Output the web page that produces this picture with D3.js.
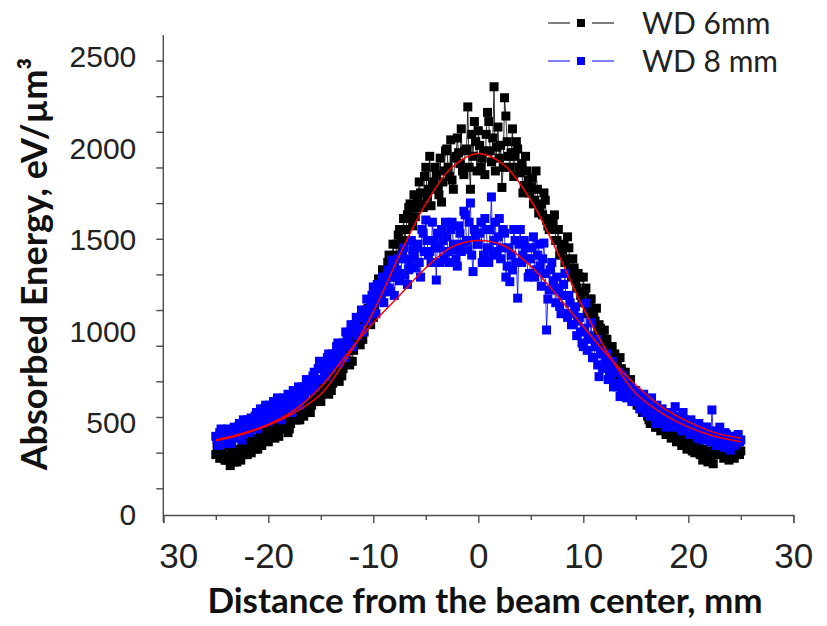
<!DOCTYPE html>
<html>
<head>
<meta charset="utf-8">
<script src="https://cdn.jsdelivr.net/npm/d3@7"></script>
<style>
body { margin: 0; background: #fff; }
svg { font-family: Lato, "Open Sans", sans-serif; }
</style>
</head>
<body>
<div id="chart"></div>
<script>
var w = 827;
var h = 626;

// measurement grids, mm: main pass every 0.25 mm, second pass shifted by 0.125 mm
var distanceA = d3.range(-25, 25.001, 0.25);
var distanceB = d3.range(-24.875, 24.9, 0.25);

// absorbed energy, eV/um3
var wd6A = [
  330, 360, 420, 310,  300, 380, 350, 290,  290, 360, 380, 330,  330, 400, 420, 360,
  360, 430, 420, 470,  400, 470, 450, 510,  430, 500, 540, 480,  470, 540, 580, 520,
  520, 590, 600, 560,  560, 620, 680, 640,  620, 700, 740, 660,  680, 760, 820, 730,
  760, 850, 900, 820,  840, 940, 1020, 930,  960, 1060, 1130, 1040,  1080, 1190, 1290, 1200,
  1220, 1330, 1420, 1300,  1380, 1480, 1560, 1440,  1500, 1640, 1700, 1580,  1630, 1720, 1760, 1680,
  1900, 1780, 1690, 1820,  1860, 1750, 1710, 1880,  2000, 1850, 1830, 1950,  2060, 1920, 1880, 1990,
  2230, 1780, 1960, 2040,
  2100, 1900, 1990, 2080,  2150, 1930, 2340, 2010,  1950, 1790, 2280, 2040,  1900, 2110, 1960, 2000,
  1870, 1760, 1960, 1830,  1790, 1700, 1880, 1650,  1700, 1760, 1610, 1560,  1560, 1640, 1500, 1420,
  1450, 1380, 1520, 1340,  1400, 1280, 1320, 1200,  1300, 1240, 1140, 1180,  1090, 1130, 1040, 980,
  1010, 960, 900, 920,  880, 820, 860, 780,  780, 700, 740, 660,  620, 660, 600, 560,
  560, 520, 580, 500,  480, 520, 470, 500,  470, 450, 430, 480,  480, 420, 400, 440,
  440, 400, 380, 370,  380, 330, 360, 310,  300, 350, 390, 340,  390, 340, 370, 320,
  370, 330, 360, 340,
  350
];
var wd6B = [
  380, 310, 340, 300,  320, 270, 330, 310,  340, 300, 350, 370,  390, 340, 370, 400,
  410, 380, 450, 430,  440, 490, 420, 470,  470, 520, 500, 450,  500, 560, 520, 600,
  560, 540, 620, 580,  600, 660, 620, 700,  660, 720, 690, 780,  720, 800, 760, 860,
  800, 880, 840, 960,  900, 990, 950, 1060,  1000, 1100, 1080, 1170,  1140, 1240, 1220, 1340,
  1280, 1380, 1350, 1480,  1420, 1530, 1500, 1620,  1560, 1680, 1620, 1750,  1680, 1820, 1700, 1850,
  1740, 1960, 1800, 1900,  1780, 1950, 1820, 1990,  1900, 2050, 1780, 1960,  1980, 2110, 1860, 2000,
  1900, 2080, 2150, 1880,
  2020, 1950, 1860, 2200,  1990, 2060, 1880, 2120,  2020, 1900, 2180, 1960,  1980, 1850, 2040, 1900,
  1920, 1800, 1880, 1760,  1840, 1720, 1780, 1660,  1640, 1720, 1580, 1620,  1600, 1500, 1560, 1460,
  1480, 1400, 1460, 1300,  1350, 1240, 1300, 1160,  1220, 1100, 1180, 1060,  1060, 1000, 1020, 940,
  960, 880, 920, 840,  840, 760, 800, 720,  720, 680, 640, 620,  600, 640, 560, 590,
  540, 500, 560, 480,  500, 460, 510, 440,  450, 420, 460, 400,  420, 380, 430, 360,
  400, 350, 340, 370,  330, 300, 340, 290,  320, 280, 330, 360,  350, 310, 340, 300,
  340, 310, 350, 330
];
var wd8A = [
  430, 380, 470, 400,  450, 420, 390, 480,  440, 500, 410, 470,  520, 450, 490, 540,
  470, 580, 520, 600,  510, 560, 620, 540,  590, 520, 640, 580,  620, 560, 680, 640,
  600, 700, 660, 720,  680, 760, 700, 800,  740, 820, 760, 880,  800, 860, 920, 830,
  900, 860, 960, 1000,  920, 1040, 980, 1080,  1000, 1120, 1060, 1140,  1246, 1100, 1180, 1220,
  1160, 1300, 1240, 1393,  1200, 1340, 1280, 1420,  1310, 1260, 1380, 1450,  1350, 1480, 1300, 1540,
  1612, 1420, 1380, 1500,  1284, 1460, 1560, 1400,  1520, 1380, 1600, 1450,  1360, 1540, 1480, 1640,
  1450, 1705, 1330, 1520,
  1480, 1600, 1420, 1560,  1380, 1738, 1500, 1440,  1620, 1460, 1540, 1360,  1275, 1339, 1500, 1185,
  1560, 1420, 1460, 1300,  1400, 1520, 1340, 1480,  1250, 1486, 1011, 1230,  1380, 1230, 1300, 1140,
  1200, 1320, 1080, 1160,  1040, 1138, 1060, 1000,  920, 1158, 980, 1050,  860, 960, 756, 900,
  820, 880, 760, 840,  780, 700, 647, 760,  720, 660, 700, 620,  680, 640, 600, 660,
  620, 580, 640, 560,  600, 540, 580, 520,  560, 500, 540, 592,  520, 480, 560, 500,
  470, 520, 480, 450,  500, 440, 470, 480,  430, 574, 460, 420,  480, 400, 450, 420,
  355, 430, 390, 440,
  410
];
var wd8B = [
  410, 450, 390, 430,  470, 400, 440, 420,  480, 430, 520, 460,  470, 530, 500, 560,
  540, 500, 580, 550,  600, 530, 580, 640,  560, 620, 600, 660,  600, 680, 640, 700,
  680, 640, 740, 700,  720, 780, 740, 840,  800, 760, 860, 820,  880, 840, 940, 900,
  940, 1000, 920, 1040,  1000, 1080, 1020, 1120,  1080, 1180, 1100, 1200,  1160, 1260, 1200, 1300,
  1260, 1340, 1220, 1380,  1300, 1400, 1320, 1460,  1400, 1340, 1500, 1420,  1460, 1380, 1560, 1440,
  1500, 1440, 1600, 1460,  1540, 1380, 1500, 1600,  1440, 1560, 1480, 1400,  1580, 1440, 1660, 1500,
  1600, 1420, 1560, 1480,
  1540, 1380, 1620, 1460,  1560, 1420, 1600, 1520,  1400, 1560, 1300, 1460,  1420, 1560, 1380, 1480,
  1380, 1500, 1400, 1320,  1460, 1300, 1420, 1360,  1400, 1320, 1180, 1340,  1280, 1160, 1240, 1100,
  1260, 1100, 1200, 1040,  1100, 980, 1080, 940,  1020, 900, 960, 860,  920, 820, 880, 800,
  860, 740, 800, 700,  720, 780, 680, 740,  640, 700, 620, 680,  620, 580, 640, 560,
  600, 540, 580, 500,  560, 500, 540, 480,  520, 560, 480, 540,  500, 460, 520, 480,
  440, 500, 460, 420,  460, 410, 480, 440,  400, 450, 380, 430,  410, 370, 440, 400,
  420, 380, 430, 400
];

// fitted curves (red)
var fitX = [-25, -22.5, -20, -17.5, -15, -12.5, -10, -7.5, -5, -2.5, 0, 2.5, 5, 7.5, 10, 12.5, 15, 17.5, 20, 22.5, 25];
var fit6 = [405, 440, 490, 560, 660, 860, 1110, 1420, 1700, 1900, 1975, 1910, 1720, 1440, 1130, 870, 665, 555, 480, 430, 400];
var fit8 = [410, 445, 495, 575, 700, 880, 1050, 1200, 1350, 1465, 1500, 1470, 1360, 1200, 1030, 860, 710, 590, 510, 450, 420];

var seriesNames = ["WD 6mm", "WD 8 mm"];
var seriesColors = ["#000000", "#0000ff"];
var xMajor = [-30, -20, -10, 0, 10, 20, 30];
var xMinor = [-25, -15, -5, 5, 15, 25];
var xLabels = ["30", "-20", "-10", "0", "10", "20", "30"];
var yLabels = [0, 500, 1000, 1500, 2000, 2500];

var axisColor = "#4d4d4d";
var textColor = "#222";

var svg = d3.select("#chart")
            .append("svg")
            .attr("width", w)
            .attr("height", h);

// scales
var x = d3.scaleLinear().domain([-30, 30]).range([163.3, 793.3]);
var y = d3.scaleLinear().domain([0, 2500]).range([515, 57.5]);
// the tick marks on the y axis sit on their own spacing in the original
var yMarks = d3.scaleLinear().domain([0, 2500]).range([488.3, 42.7]);

// x axis: major ticks with labels, then minor ticks
var xAxis = svg.append("g")
    .attr("transform", "translate(0," + y(0) + ")")
    .call(d3.axisBottom(x)
        .tickValues(xMajor)
        .tickSize(8)
        .tickPadding(20)
        .tickFormat(function(d, i) { return xLabels[i]; }));
xAxis.select(".domain").attr("stroke", axisColor).attr("stroke-width", 1.4);
xAxis.selectAll(".tick line").attr("stroke", axisColor).attr("stroke-width", 1.4);
xAxis.selectAll(".tick text")
    .attr("fill", textColor)
    .style("font-size", "35px")
    .attr("x", function(d) { return d === -30 ? 15 : 0; });

var xMinorAxis = svg.append("g")
    .attr("transform", "translate(0," + y(0) + ")")
    .call(d3.axisBottom(x).tickValues(xMinor).tickSize(5).tickFormat(""));
xMinorAxis.select(".domain").remove();
xMinorAxis.selectAll(".tick line").attr("stroke", axisColor).attr("stroke-width", 1.4);

// y axis line (extends below the x axis a little)
svg.append("line")
    .attr("x1", x(-30)).attr("x2", x(-30))
    .attr("y1", 35).attr("y2", 522)
    .attr("stroke", axisColor)
    .attr("stroke-width", 1.4);

var yMarkAxis = svg.append("g")
    .attr("transform", "translate(" + x(-30) + ",0)")
    .call(d3.axisLeft(yMarks).ticks(10).tickSize(7).tickFormat(""));
yMarkAxis.select(".domain").remove();
yMarkAxis.selectAll(".tick line").attr("stroke", axisColor).attr("stroke-width", 1.4);

var yAxis = svg.append("g")
    .attr("transform", "translate(" + x(-30) + ",0)")
    .call(d3.axisLeft(y).tickValues(yLabels).tickSize(0).tickPadding(27)
        .tickFormat(d3.format("d")));
yAxis.select(".domain").remove();
yAxis.selectAll(".tick text")
    .attr("fill", textColor)
    .attr("dy", "0.3em")
    .style("font-size", "30px");

// axis titles
svg.append("text")
    .attr("x", 485)
    .attr("y", 613)
    .attr("text-anchor", "middle")
    .attr("fill", "#111")
    .style("font-size", "35px")
    .style("font-weight", "bold")
    .text("Distance from the beam center, mm");

svg.append("text")
    .attr("transform", "translate(47,264) rotate(-90)")
    .attr("text-anchor", "middle")
    .attr("fill", "#111")
    .style("font-size", "36px")
    .style("font-weight", "bold")
    .text("Absorbed Energy, eV/\u00b5m\u00b3");

// combine both passes and sort along x
function points(xa, va, xb, vb) {
    var p = xa.map(function(d, i) { return { x: d, v: va[i] }; })
        .concat(xb.map(function(d, i) { return { x: d, v: vb[i] }; }));
    return p.sort(function(a, b) { return a.x - b.x; });
}
var allSeries = [points(distanceA, wd6A, distanceB, wd6B), points(distanceA, wd8A, distanceB, wd8B)];

var line = d3.line()
    .x(function(d) { return x(d.x); })
    .y(function(d) { return y(d.v); });
var markerSize = 9;

allSeries.forEach(function(pts, s) {
    svg.append("path")
        .datum(pts)
        .attr("fill", "none")
        .attr("stroke", seriesColors[s])
        .attr("stroke-width", 0.8)
        .attr("d", line);

    svg.append("g")
        .selectAll("rect")
        .data(pts)
        .enter()
        .append("rect")
        .attr("x", function(d) { return x(d.x) - markerSize / 2; })
        .attr("y", function(d) { return y(d.v) - markerSize / 2; })
        .attr("width", markerSize)
        .attr("height", markerSize)
        .attr("fill", seriesColors[s]);
});

// fits
var fitLine = d3.line()
    .x(function(d, i) { return x(fitX[i]); })
    .y(function(d) { return y(d); })
    .curve(d3.curveCatmullRom);
[fit6, fit8].forEach(function(values) {
    svg.append("path")
        .datum(values)
        .attr("fill", "none")
        .attr("stroke", "#ff0000")
        .attr("stroke-width", 1.5)
        .attr("d", fitLine);
});

// legend
var legend = svg.append("g");
seriesNames.forEach(function(name, i) {
    var ly = 23 + i * 38;
    var g = legend.append("g").attr("transform", "translate(0," + ly + ")");
    g.append("line").attr("x1", 548).attr("x2", 570).attr("y1", 0).attr("y2", 0)
        .attr("stroke", seriesColors[i]).attr("stroke-width", 1);
    g.append("line").attr("x1", 592).attr("x2", 614).attr("y1", 0).attr("y2", 0)
        .attr("stroke", seriesColors[i]).attr("stroke-width", 1);
    g.append("rect").attr("x", 577).attr("y", -4).attr("width", 8).attr("height", 8)
        .attr("fill", seriesColors[i]);
    g.append("text")
        .attr("x", 642)
        .attr("y", 0)
        .attr("dy", "0.36em")
        .attr("fill", textColor)
        .style("font-size", "30px")
        .text(name);
});
</script>
</body>
</html>
